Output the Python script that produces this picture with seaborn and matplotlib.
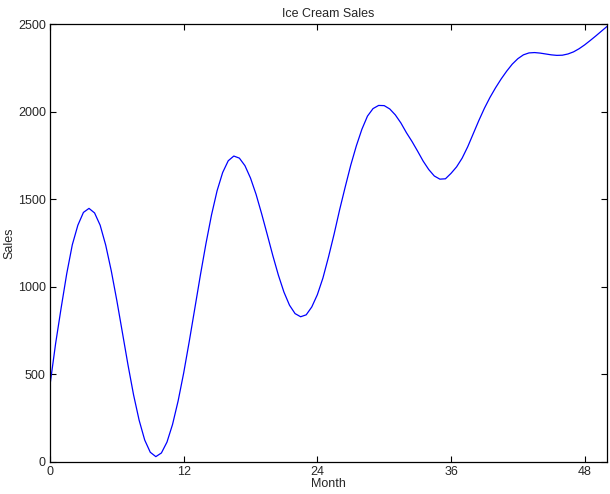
import matplotlib
matplotlib.use("Agg")
import matplotlib.pyplot as plt
import pandas as pd
import seaborn as sns

# values every half month, 0 .. 50
months = [m / 2 for m in range(101)]
sales = [440, 675, 880, 1075, 1240, 1352, 1425, 1448, 1422, 1352,
         1238, 1091, 921, 738, 554, 383, 238, 125, 55, 30,
         51, 113, 214, 348, 508, 688, 877, 1067, 1247, 1411,
         1549, 1653, 1720, 1747, 1735, 1692, 1621, 1528, 1417, 1299,
         1179, 1067, 970, 895, 847, 829, 840, 885, 955, 1050,
         1170, 1300, 1440, 1570, 1695, 1805, 1900, 1975, 2018, 2036,
         2035, 2016, 1982, 1936, 1880, 1830, 1775, 1718, 1670, 1633,
         1615, 1617, 1648, 1685, 1735, 1800, 1875, 1950, 2020, 2082,
         2137, 2187, 2232, 2272, 2303, 2325, 2336, 2338, 2335, 2330,
         2325, 2322, 2323, 2330, 2342, 2360, 2382, 2407, 2433, 2460,
         2487]
x_ticks = [0, 12, 24, 36, 48]
y_ticks = [0, 500, 1000, 1500, 2000, 2500]

sns.set_style("ticks")
plt.rcParams['font.family'] = ['Liberation Sans', 'DejaVu Sans']
plt.rcParams['xtick.direction'] = 'in'
plt.rcParams['ytick.direction'] = 'in'

df = pd.DataFrame({'Month': months, 'Sales': sales})

fig = plt.figure(figsize=(6.1, 4.94), dpi=100)
ax = fig.add_axes([0.082, 0.065, 0.913, 0.886])
sns.lineplot(data=df, x='Month', y='Sales', ax=ax, color='#0000ff', linewidth=0.9)

ax.set_xlim(0, 50)
ax.set_ylim(0, 2500)
ax.set_xticks(x_ticks)
ax.set_yticks(y_ticks)
ax.tick_params(axis='both', labelsize=9, length=4, width=0.8, color='black',
               top=True, right=True, pad=3)
for side in ['top', 'right', 'bottom', 'left']:
    ax.spines[side].set_visible(True)
    ax.spines[side].set_color('black')
    ax.spines[side].set_linewidth(0.9)

ax.set_title('Ice Cream Sales', fontsize=9, pad=5)
ax.set_xlabel('Month', fontsize=9, labelpad=0)
ax.set_ylabel('Sales', fontsize=9, labelpad=2)

fig.savefig('out.png', dpi=100)
